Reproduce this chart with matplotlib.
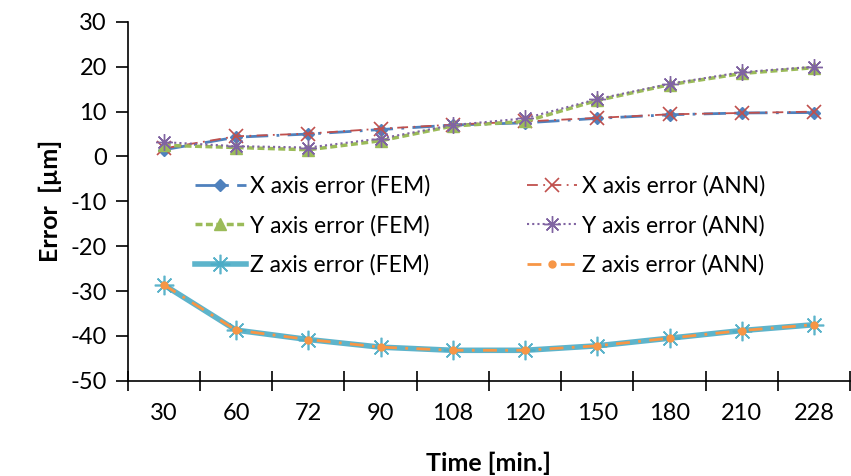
import numpy as np
import matplotlib
matplotlib.use('Agg')
import matplotlib.pyplot as plt
from matplotlib.ticker import FixedLocator

plt.rcParams['font.family'] = ['Lato', 'DejaVu Sans']
plt.rcParams['axes.unicode_minus'] = False

# data
times = ['30', '60', '72', '90', '108', '120', '150', '180', '210', '228']
x_fem = [1.5, 4.3, 5.0, 6.0, 7.0, 7.5, 8.5, 9.3, 9.7, 9.8]
x_ann = [1.8, 4.5, 5.1, 6.2, 7.1, 7.8, 8.6, 9.4, 9.7, 10.0]
y_fem = [2.5, 2.0, 1.5, 3.5, 6.8, 7.8, 12.5, 16.0, 18.5, 19.8]
y_ann = [3.2, 2.3, 2.0, 4.0, 7.0, 8.5, 12.8, 16.2, 18.8, 20.0]
z_fem = [-28.6, -38.7, -40.8, -42.5, -43.2, -43.2, -42.2, -40.5, -38.8, -37.5]
z_ann = [-28.6, -38.7, -40.8, -42.5, -43.2, -43.2, -42.2, -40.5, -38.8, -37.5]

fig = plt.figure(figsize=(8.51, 4.76), dpi=100)
ax = fig.add_axes([0.150, 0.200, 0.849, 0.754])

pos = np.arange(len(times))

ax.plot(pos, z_fem, color='#4BACC6', lw=4, marker=(8, 2, 0), ms=14, mew=1.2,
        label='Z axis error (FEM)', alpha=0.9)
ax.plot(pos, z_ann, color='#F79646', lw=2, ls=(0, (5, 3, 1, 3)), marker='o', ms=5,
        label='Z axis error (ANN)')
ax.plot(pos, x_fem, color='#4F81BD', lw=2, ls=(0, (8, 3, 1, 3)), marker='D', ms=6,
        label='X axis error (FEM)')
ax.plot(pos, x_ann, color='#C0504D', lw=1.3, ls=(0, (6, 3, 1, 3)), marker='x', ms=10, mew=1.2,
        label='X axis error (ANN)')
ax.plot(pos, y_fem, color='#9BBB59', lw=2.5, ls=(0, (2, 1)), marker='^', ms=9,
        label='Y axis error (FEM)')
ax.plot(pos, y_ann, color='#8064A2', lw=1.5, ls=(0, (1, 1.5)), marker=(8, 2, 0), ms=12, mew=1.0,
        label='Y axis error (ANN)')

ax.set_xlim(-0.5, len(times) - 0.5)
ax.set_ylim(-50, 30)
ax.set_yticks(np.arange(-50, 31, 10))
ax.set_xticks(pos)
ax.set_xticklabels(times)
ax.xaxis.set_minor_locator(FixedLocator(np.arange(-0.5, len(times), 1.0)))
ax.tick_params(axis='x', which='major', length=0, pad=16, labelsize=17)
ax.tick_params(axis='x', which='minor', direction='inout', length=14, width=1.2)
ax.tick_params(axis='y', direction='out', length=9, width=1.2, labelsize=17, pad=6)

for s in ['top', 'right']:
    ax.spines[s].set_visible(False)
for s in ['left', 'bottom']:
    ax.spines[s].set_linewidth(1.2)

ax.set_xlabel('Time [min.]', fontsize=18, fontweight='bold', labelpad=20)
ax.set_ylabel('Error  [µm]', fontsize=18, fontweight='bold', labelpad=6)

handles, labels = ax.get_legend_handles_labels()
order = ['X axis error (FEM)', 'Y axis error (FEM)', 'Z axis error (FEM)',
         'X axis error (ANN)', 'Y axis error (ANN)', 'Z axis error (ANN)']
hmap = dict(zip(labels, handles))
ax.legend([hmap[l] for l in order], order, ncol=2, frameon=False, fontsize=16.5,
          loc='upper left', bbox_to_anchor=(0.065, 0.63), handlelength=2.2,
          handletextpad=0.2, columnspacing=4.2, labelspacing=0.78)

fig.savefig('out.png', dpi=100)
